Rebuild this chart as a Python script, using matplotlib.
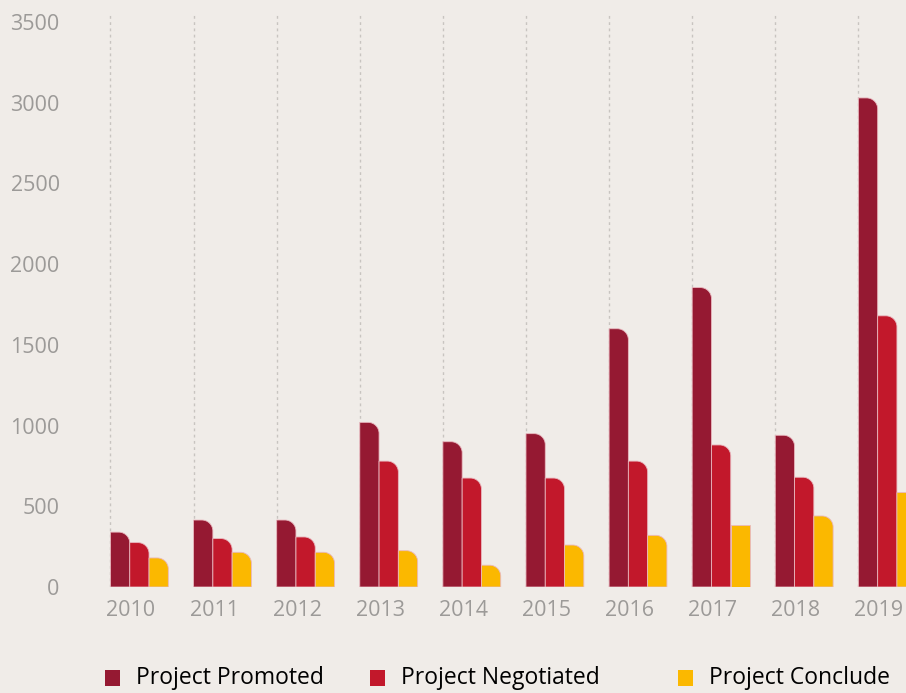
import matplotlib
matplotlib.use("Agg")
import matplotlib.pyplot as plt
import numpy as np
from matplotlib.path import Path
from matplotlib.patches import PathPatch, Rectangle

plt.rcParams['font.family'] = ['Open Sans', 'DejaVu Sans']

years = ['2010', '2011', '2012', '2013', '2014', '2015', '2016', '2017', '2018', '2019']
promoted = [340, 415, 415, 1020, 900, 950, 1600, 1855, 940, 3030]
negotiated = [275, 300, 310, 780, 675, 675, 780, 880, 680, 1680]
concluded = [180, 215, 215, 225, 135, 260, 320, 385, 440, 585]
series_names = ['Project Promoted', 'Project Negotiated', 'Project Conclude']

colors = ['#951932', '#c2182b', '#fbb800']
bg = '#f0ece8'
tick_gray = '#9c9a98'

W, H = 906, 693
fig = plt.figure(figsize=(W / 100, H / 100), dpi=100, facecolor=bg)
# axes placed in pixel terms: left 75, right 906, bottom at baseline 587, top 14
ax = fig.add_axes([75 / W, (H - 587) / H, (W - 75) / W, (587 - 14) / H])
ax.set_facecolor(bg)
ax.set_xlim(-0.674, 9.326)
ax.set_ylim(0, 3550)

bar_w = 0.232
offsets = [-0.131, 0.101, 0.333]
x = np.arange(len(years))

# dotted guide lines at the left edge of each group
ax.vlines(x - 0.247, 0, 3550, colors='#c8c4c0', linestyles=(0, (2, 2.5)),
          linewidth=1.0, zorder=1)


def rounded_bar(ax, rect, color, rx_px=11.0, square=False):
    """Replace a bar rectangle by one with a rounded top-right corner."""
    x0, y0 = rect.get_x(), rect.get_y()
    w, h = rect.get_width(), rect.get_height()
    rect.remove()
    # convert the corner radius from pixels to data units
    sx = 83.1
    sy = 565 / 3500
    rx = min(rx_px / sx, w)
    ry = min(rx_px / sy, h)
    k = 0.5523
    if square:
        verts = [(x0, y0), (x0, y0 + h), (x0 + w, y0 + h), (x0 + w, y0), (x0, y0)]
        codes = [Path.MOVETO, Path.LINETO, Path.LINETO, Path.LINETO, Path.CLOSEPOLY]
    else:
        top = y0 + h
        verts = [(x0, y0), (x0, top), (x0 + w - rx, top),
                 (x0 + w - rx + k * rx, top), (x0 + w, top - ry + k * ry), (x0 + w, top - ry),
                 (x0 + w, y0), (x0, y0)]
        codes = [Path.MOVETO, Path.LINETO, Path.LINETO,
                 Path.CURVE4, Path.CURVE4, Path.CURVE4,
                 Path.LINETO, Path.CLOSEPOLY]
    patch = PathPatch(Path(verts, codes), facecolor=color, edgecolor='#e9b8bf',
                      linewidth=0.6, zorder=3, clip_on=True)
    ax.add_patch(patch)


for s, (vals, col) in enumerate(zip([promoted, negotiated, concluded], colors)):
    bars = ax.bar(x + offsets[s], vals, width=bar_w, color=col)
    for i, r in enumerate(bars):
        rounded_bar(ax, r, col, square=(s == 2 and i == 7))

ax.set_xticks(x)
ax.set_xticklabels(years)
ax.set_yticks(np.arange(0, 3501, 500))
ax.tick_params(axis='both', length=0, colors=tick_gray, labelsize=15.5)
ax.tick_params(axis='x', pad=9)
ax.tick_params(axis='y', pad=11)
for sp in ax.spines.values():
    sp.set_visible(False)

# legend row at the bottom
legend_x = [105, 370, 678]
for lx, name, col in zip(legend_x, series_names, colors):
    fig.patches.append(Rectangle((lx / W, (H - 686) / H), 15 / W, 16 / H,
                                 transform=fig.transFigure, facecolor=col,
                                 edgecolor='none'))
    fig.text((lx + 31) / W, (H - 678) / H, name, fontsize=16.5, color='#000000',
             va='center', ha='left')

fig.savefig('out.png', dpi=100, facecolor=bg)
